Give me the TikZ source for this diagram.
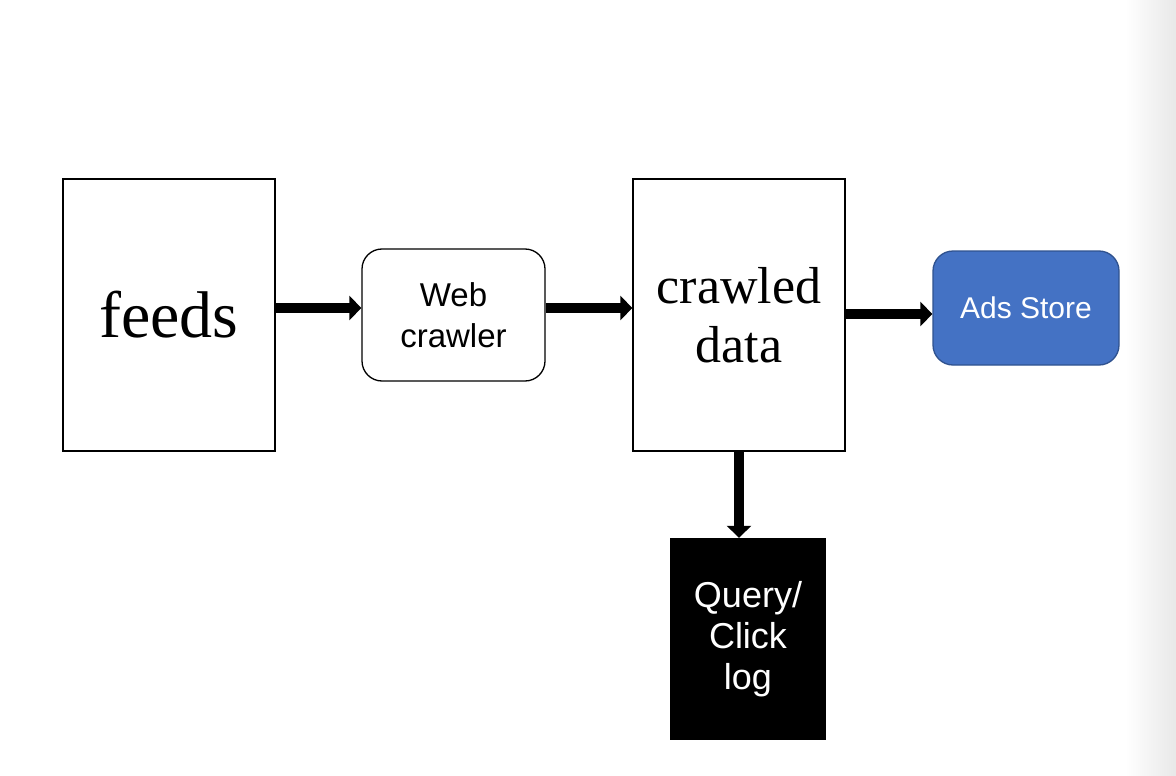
\documentclass[tikz,border=0pt]{standalone}
\usepackage{fontspec}
\setmainfont{Liberation Serif}
\setsansfont{Liberation Sans}
\usetikzlibrary{arrows.meta}
\definecolor{adsblue}{HTML}{4472C4}
\definecolor{adsedge}{HTML}{2F528F}

\begin{document}
\begin{tikzpicture}[x=1pt, y=-1pt,
    bigbox/.style={draw, line width=1.3pt, minimum width=212pt, minimum height=272pt,
        align=center, font=\fontsize{52}{59}\selectfont},
    flow/.style={line width=10pt, -{Triangle[length=12pt,width=24pt]}}]
    % Page and the grey fade at the right edge
    \useasboundingbox (0,0) rectangle (1176,776);
    \fill[white] (0,0) rectangle (1176,776);
    \shade[left color=white, right color=black!9] (1125,0) rectangle (1176,776);

    % Draw the boxes
    \node[bigbox, font=\fontsize{66}{70}\selectfont] (feeds) at (169,315) {feeds};
    \node[draw, line width=1.3pt, rounded corners=20pt, minimum width=183pt, minimum height=132pt,
        align=center, font=\sffamily\fontsize{33}{41}\selectfont] (crawler) at (453.5,315) {Web\\crawler};
    \node[bigbox] (crawled) at (739,315) {crawled\\data};
    \node[draw=adsedge, line width=1.3pt, fill=adsblue, text=white, rounded corners=20pt,
        minimum width=186pt, minimum height=114pt, font=\sffamily\fontsize{30}{36}\selectfont] (ads) at (1026,308) {Ads Store};
    \node[fill=black, text=white, minimum width=156pt, minimum height=202pt, align=center,
        font=\sffamily\fontsize{36}{41}\selectfont] (log) at (748,639) {Query/\\Click\\log};

    % Draw the arrows
    \draw[flow] ([yshift=7pt]feeds.east) -- ([yshift=7pt]crawler.west);
    \draw[flow] ([yshift=7pt]crawler.east) -- ([yshift=7pt]crawled.west);
    \draw[flow] ([yshift=1pt]crawled.east) -- ([yshift=-6pt]ads.west);
    \draw[flow] (crawled.south) -- (crawled.south |- log.north);
\end{tikzpicture}
\end{document}
